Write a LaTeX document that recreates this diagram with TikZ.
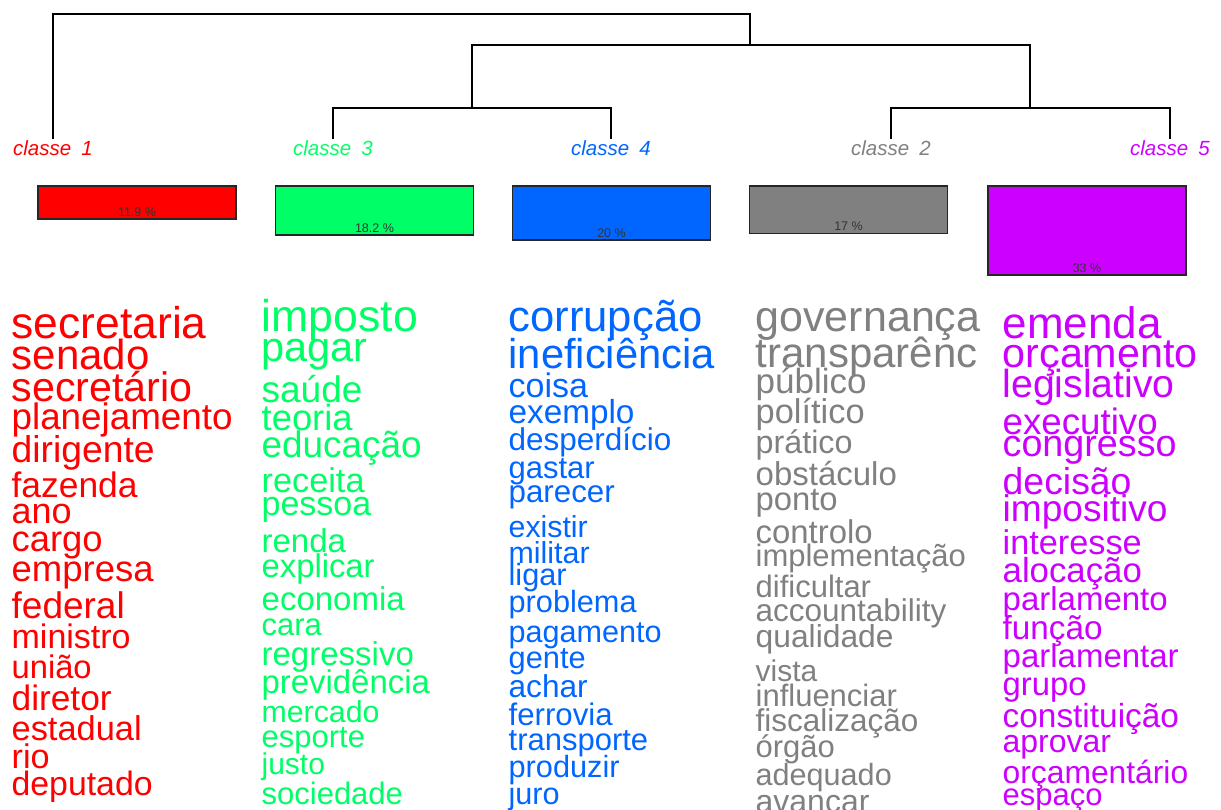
\documentclass[tikz,border=0pt]{standalone}
\usepackage{fontspec}
\setmainfont{Liberation Sans}
\usepackage{xcolor}
\usepackage{tikz}
\usetikzlibrary{positioning}
\definecolor{cl_red}{HTML}{FF0000}
\definecolor{cl_green}{HTML}{00FF66}
\definecolor{cl_blue}{HTML}{0066FF}
\definecolor{cl_gray}{HTML}{808080}
\definecolor{cl_magenta}{HTML}{CC00FF}
\tikzset{ cl_label/.style = {anchor=base, inner sep=1pt, font=\fontsize{20.5}{20.5}\selectfont\itshape} }
\tikzset{ cl_bar/.style = {rectangle, draw=black!85, line width=1.3pt, minimum width=198pt, inner sep=0pt} }
\tikzset{ pct/.style = {inner sep=0pt, text=black!80, font=\fontsize{12.5}{12.5}\selectfont} }
\tikzset{ word/.style = {anchor=base west, inner sep=0pt, font=\fontsize{#1}{#1}\selectfont} }

\begin{document}
\begin{tikzpicture}[x=1pt, y=-1pt, line width=1.3pt]
            \useasboundingbox (0, 0) rectangle (1221, 810);
            \clip (0, 0) rectangle (1221, 810);

            % class labels and tree
            \node [cl_label, text=cl_red] (c1) at (53, 156) {classe\hspace{0.5em}1};
            \node [cl_label, text=cl_green] (c3) at (333, 156) {classe\hspace{0.5em}3};
            \node [cl_label, text=cl_blue] (c4) at (611, 156) {classe\hspace{0.5em}4};
            \node [cl_label, text=cl_gray] (c2) at (891, 156) {classe\hspace{0.5em}2};
            \node [cl_label, text=cl_magenta] (c5) at (1170, 156) {classe\hspace{0.5em}5};
            \coordinate (k34) at (472, 108);
            \coordinate (k25) at (1030, 108);
            \coordinate (k2345) at (750, 45);
            \coordinate (root) at (401, 14);
            \draw (c3.north) |- (k34) -| (c4.north);
            \draw (c2.north) |- (k25) -| (c5.north);
            \draw (k34) |- (k2345) -| (k25);
            \draw (c1.north) |- (root) -| (k2345);

            % bars
            \node [cl_bar, fill=cl_red, minimum height=33pt] (b1) at (137, 202.5) {};
            \node [cl_bar, fill=cl_green, minimum height=49pt] (b3) at (374.5, 210.5) {};
            \node [cl_bar, fill=cl_blue, minimum height=54pt] (b4) at (611.5, 213) {};
            \node [cl_bar, fill=cl_gray, minimum height=47.5pt] (b2) at (848.5, 209.75) {};
            \node [cl_bar, fill=cl_magenta, minimum height=89pt] (b5) at (1087, 230.5) {};
            \node [pct, above=2.5pt of b1.south] (p1) {11.9 \%};
            \node [pct, above=2.5pt of b3.south] (p3) {18.2 \%};
            \node [pct, above=2.5pt of b4.south] (p4) {20 \%};
            \node [pct, above=2.5pt of b2.south] (p2) {17 \%};
            \node [pct, above=2.5pt of b5.south] (p5) {33 \%};

            % classe 1
            \node [word=44.4, text=cl_red] (r1) at (11, 338) {secretaria};
            \node [word=42, text=cl_red] (r2) at (11, 370) {senado};
            \node [word=41.2, text=cl_red] (r3) at (11, 401) {secretário};
            \node [word=36.8, text=cl_red] (r4) at (11, 429) {planejamento};
            \node [word=37.3, text=cl_red] (r5) at (11, 462) {dirigente};
            \node [word=35.4, text=cl_red] (r6) at (11, 497) {fazenda};
            \node [word=36, text=cl_red] (r7) at (11, 523) {ano};
            \node [word=36.4, text=cl_red] (r8) at (11, 551) {cargo};
            \node [word=36.5, text=cl_red] (r9) at (11, 581) {empresa};
            \node [word=37, text=cl_red] (r10) at (11, 618) {federal};
            \node [word=34, text=cl_red] (r11) at (11, 648) {ministro};
            \node [word=32.7, text=cl_red] (r12) at (11, 678) {união};
            \node [word=35.3, text=cl_red] (r13) at (11, 710) {diretor};
            \node [word=34.4, text=cl_red] (r14) at (11, 740) {estadual};
            \node [word=34.2, text=cl_red] (r15) at (11, 768) {rio};
            \node [word=33.8, text=cl_red] (r16) at (11, 795) {deputado};

            % classe 3
            \node [word=44.6, text=cl_green] (g1) at (261, 332) {imposto};
            \node [word=41.5, text=cl_green] (g2) at (261, 362) {pagar};
            \node [word=37, text=cl_green] (g3) at (261, 402) {saúde};
            \node [word=36.4, text=cl_green] (g4) at (261, 430) {teoria};
            \node [word=36.9, text=cl_green] (g5) at (261, 457) {educação};
            \node [word=34.3, text=cl_green] (g6) at (261, 492) {receita};
            \node [word=34, text=cl_green] (g7) at (261, 515) {pessoa};
            \node [word=33, text=cl_green] (g8) at (261, 552) {renda};
            \node [word=32.8, text=cl_green] (g9) at (261, 577) {explicar};
            \node [word=33, text=cl_green] (g10) at (261, 610) {economia};
            \node [word=31, text=cl_green] (g11) at (261, 635) {cara};
            \node [word=33, text=cl_green] (g12) at (261, 665) {regressivo};
            \node [word=32.9, text=cl_green] (g13) at (261, 693) {previdência};
            \node [word=30.3, text=cl_green] (g14) at (261, 722) {mercado};
            \node [word=31, text=cl_green] (g15) at (261, 747) {esporte};
            \node [word=30, text=cl_green] (g16) at (261, 774) {justo};
            \node [word=31, text=cl_green] (g17) at (261, 804) {sociedade};

            % classe 4
            \node [word=43.6, text=cl_blue] (u1) at (508, 332) {corrupção};
            \node [word=41.7, text=cl_blue] (u2) at (508, 368) {ineficiência};
            \node [word=34, text=cl_blue] (u3) at (508, 397) {coisa};
            \node [word=33.3, text=cl_blue] (u4) at (508, 423) {exemplo};
            \node [word=31.5, text=cl_blue] (u5) at (508, 450) {desperdício};
            \node [word=31, text=cl_blue] (u6) at (508, 478) {gastar};
            \node [word=31.3, text=cl_blue] (u7) at (508, 502) {parecer};
            \node [word=30.3, text=cl_blue] (u8) at (508, 537) {existir};
            \node [word=30.4, text=cl_blue] (u9) at (508, 563) {militar};
            \node [word=30.7, text=cl_blue] (u10) at (508, 585) {ligar};
            \node [word=30.7, text=cl_blue] (u11) at (508, 612) {problema};
            \node [word=30.6, text=cl_blue] (u12) at (508, 642) {pagamento};
            \node [word=30.8, text=cl_blue] (u13) at (508, 668) {gente};
            \node [word=31.6, text=cl_blue] (u14) at (508, 697) {achar};
            \node [word=31.2, text=cl_blue] (u15) at (508, 725) {ferrovia};
            \node [word=31, text=cl_blue] (u16) at (508, 750) {transporte};
            \node [word=30.7, text=cl_blue] (u17) at (508, 777) {produzir};
            \node [word=30.6, text=cl_blue] (u18) at (508, 804) {juro};

            % classe 2
            \node [word=43, text=cl_gray] (y1) at (755, 331) {governança};
            \node [word=42, text=cl_gray] (y2) at (755, 367) {transparênc};
            \node [word=35, text=cl_gray] (y3) at (755, 393) {público};
            \node [word=34.4, text=cl_gray] (y4) at (755, 423) {político};
            \node [word=32.3, text=cl_gray] (y5) at (755, 453) {prático};
            \node [word=33, text=cl_gray] (y6) at (755, 485) {obstáculo};
            \node [word=32.8, text=cl_gray] (y7) at (755, 510) {ponto};
            \node [word=32.9, text=cl_gray] (y8) at (755, 543) {controlo};
            \node [word=31, text=cl_gray] (y9) at (755, 566) {implementação};
            \node [word=31, text=cl_gray] (y10) at (755, 597) {dificultar};
            \node [word=31.5, text=cl_gray] (y11) at (755, 621) {accountability};
            \node [word=31.8, text=cl_gray] (y12) at (755, 647) {qualidade};
            \node [word=30, text=cl_gray] (y13) at (755, 681) {vista};
            \node [word=31, text=cl_gray] (y14) at (755, 706) {influenciar};
            \node [word=31.5, text=cl_gray] (y15) at (755, 731) {fiscalização};
            \node [word=31, text=cl_gray] (y16) at (755, 757) {órgão};
            \node [word=30.6, text=cl_gray] (y17) at (755, 785) {adequado};
            \node [word=32, text=cl_gray] (y18) at (755, 812) {avançar};

            % classe 5
            \node [word=44, text=cl_magenta] (m1) at (1002, 338) {emenda};
            \node [word=41.3, text=cl_magenta] (m2) at (1002, 367) {orçamento};
            \node [word=39.2, text=cl_magenta] (m3) at (1002, 397) {legislativo};
            \node [word=36.7, text=cl_magenta] (m4) at (1002, 434) {executivo};
            \node [word=37.7, text=cl_magenta] (m5) at (1002, 456) {congresso};
            \node [word=37.4, text=cl_magenta] (m6) at (1002, 494) {decisão};
            \node [word=37.1, text=cl_magenta] (m7) at (1002, 521) {impositivo};
            \node [word=34.3, text=cl_magenta] (m8) at (1002, 554) {interesse};
            \node [word=34.8, text=cl_magenta] (m9) at (1002, 582) {alocação};
            \node [word=33, text=cl_magenta] (m10) at (1002, 610) {parlamento};
            \node [word=33.3, text=cl_magenta] (m11) at (1002, 639) {função};
            \node [word=33, text=cl_magenta] (m12) at (1002, 667) {parlamentar};
            \node [word=32.8, text=cl_magenta] (m13) at (1002, 695) {grupo};
            \node [word=33.4, text=cl_magenta] (m14) at (1002, 727) {constituição};
            \node [word=32, text=cl_magenta] (m15) at (1002, 752) {aprovar};
            \node [word=31.8, text=cl_magenta] (m16) at (1002, 783) {orçamentário};
            \node [word=31, text=cl_magenta] (m17) at (1002, 805) {espaço};
        \end{tikzpicture}
\end{document}
